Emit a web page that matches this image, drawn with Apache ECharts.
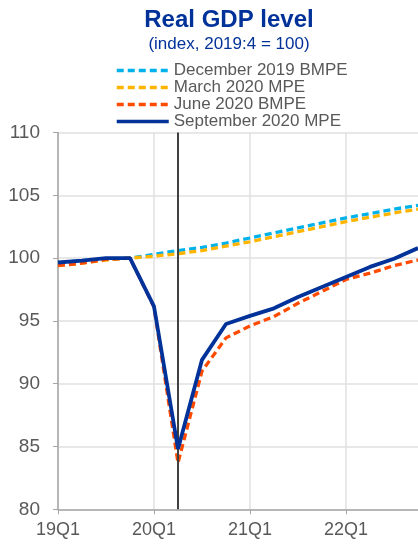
<!DOCTYPE html>
<html>
<head>
<meta charset="utf-8">
<script src="https://cdn.jsdelivr.net/npm/echarts@6/dist/echarts.min.js"></script>
<style>
  html, body { margin: 0; padding: 0; background: #fff; }
  #chart { width: 418px; height: 544px; }
</style>
</head>
<body>
<div id="chart"></div>
<script>
// quarters 19Q1 .. 22Q4
const quarters = ['19Q1', '19Q2', '19Q3', '19Q4', '20Q1', '20Q2', '20Q3', '20Q4',
  '21Q1', '21Q2', '21Q3', '21Q4', '22Q1', '22Q2', '22Q3', '22Q4'];

const dec2019 = [99.6, 99.8, 99.9, 100, 100.3, 100.6, 100.85, 101.2, 101.6, 102.0, 102.4, 102.8, 103.2, 103.55, 103.9, 104.2];
const mar2020 = [99.4, 99.6, 99.85, 100, 100.15, 100.35, 100.6, 100.95, 101.3, 101.7, 102.1, 102.5, 102.9, 103.25, 103.6, 103.9];
const jun2020 = [99.4, 99.6, 99.9, 100, 96.1, 83.7, 91.0, 93.65, 94.6, 95.35, 96.4, 97.35, 98.3, 98.8, 99.4, 99.85];
const sep2020 = [99.65, 99.8, 100, 100, 96.15, 84.8, 91.9, 94.75, 95.4, 96.0, 96.9, 97.7, 98.5, 99.3, 99.95, 100.8];

const cutoff = '20Q2';

const names = ['December 2019 BMPE', 'March 2020 MPE', 'June 2020 BMPE', 'September 2020 MPE'];
const colors = ['#00b1ea', '#ffb400', '#ff4b00', '#003299'];
const values = [dec2019, mar2020, jun2020, sep2020];

const font = 'Liberation Sans, Arial, sans-serif';
const chart = echarts.init(document.getElementById('chart'));

const series = values.map((v, i) => ({
  name: names[i],
  type: 'line',
  data: v,
  symbol: 'none',
  z: 2 + i,
  lineStyle: {
    color: colors[i],
    width: i < 3 ? 3.3 : 3.8,
    type: i < 3 ? [7, 4] : 'solid'
  },
  itemStyle: { color: colors[i] }
}));

// vertical line at the cut-off quarter
series[3].markLine = {
  silent: true,
  symbol: 'none',
  label: { show: false },
  lineStyle: { color: '#404040', width: 2, type: 'solid' },
  data: [{ xAxis: cutoff }]
};

chart.setOption({
  animation: false,
  backgroundColor: '#fff',
  title: [{
    text: 'Real GDP level',
    left: 229,
    textAlign: 'center',
    top: 8,
    padding: 0,
    textStyle: { fontFamily: font, fontSize: 24, fontWeight: 'bold', color: '#003299' }
  }, {
    text: '(index, 2019:4 = 100)',
    left: 229,
    textAlign: 'center',
    top: 36,
    padding: 0,
    textStyle: { fontFamily: font, fontSize: 17, fontWeight: 'normal', color: '#003299' }
  }],
  legend: {
    orient: 'vertical',
    left: 115,
    top: 62,
    padding: 0,
    itemWidth: 52,
    itemHeight: 10,
    itemGap: 0,
    itemStyle: { opacity: 0 },
    lineStyle: { width: 3.5 },
    textStyle: { fontFamily: font, fontSize: 17, lineHeight: 16.7, color: '#595959', padding: [0, 0, 0, 0] },
    data: names
  },
  grid: { left: 58, right: -1, top: 132.5, bottom: 34.7 },
  xAxis: {
    type: 'category',
    data: quarters,
    boundaryGap: false,
    axisLine: { lineStyle: { color: '#a6a6a6', width: 1.5 } },
    axisTick: { interval: 3, length: 5, lineStyle: { color: '#a6a6a6' } },
    axisLabel: { interval: 3, fontFamily: font, fontSize: 18, color: '#595959', margin: 12 },
    splitLine: { show: true, interval: 3, lineStyle: { color: '#e0e0e0', width: 1.5 } }
  },
  yAxis: {
    type: 'value',
    min: 80,
    max: 110,
    interval: 5,
    axisLine: { show: true, lineStyle: { color: '#a6a6a6', width: 1.5 } },
    axisTick: { show: true, length: 5, lineStyle: { color: '#a6a6a6' } },
    axisLabel: { fontFamily: font, fontSize: 19, color: '#595959', margin: 18 },
    splitLine: { lineStyle: { color: '#e0e0e0', width: 1.5 } }
  },
  series: series
});
</script>
</body>
</html>
